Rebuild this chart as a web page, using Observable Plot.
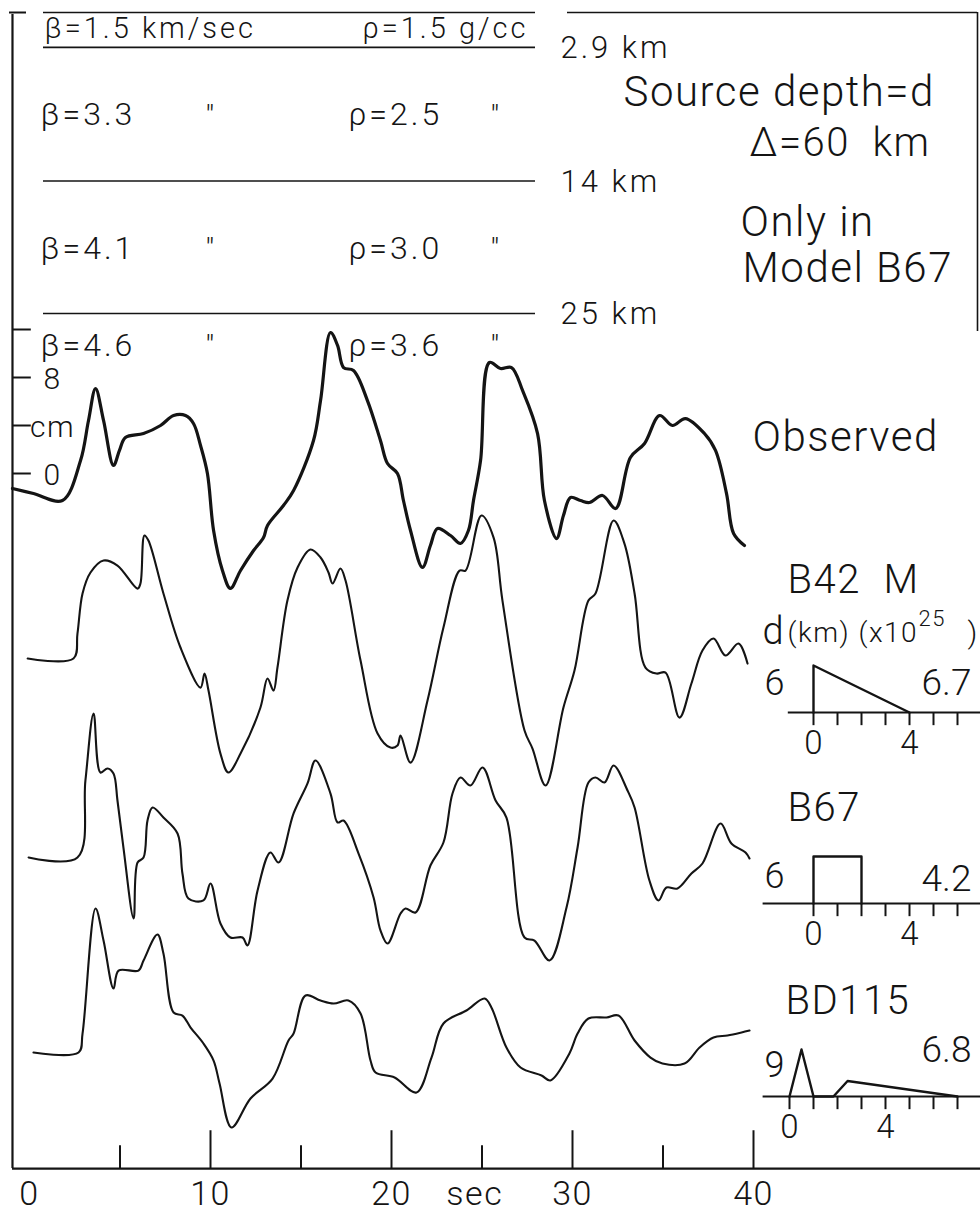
<!DOCTYPE html>
<html>
<head>
<meta charset="utf-8">
<script src="https://cdn.jsdelivr.net/npm/d3@7"></script>
<script src="https://cdn.jsdelivr.net/npm/@observablehq/plot@0.6"></script>
<style>
  html, body { margin: 0; padding: 0; background: #fff; }
  #figure { position: relative; width: 980px; height: 1214px; overflow: hidden; background: #fff; }
  #figure svg { position: absolute; }
</style>
</head>
<body>
<div id="figure"></div>
<script>
// ---------------------------------------------------------------------------
// Seismograms at Δ = 60 km: [time (s), displacement (cm)]
// ---------------------------------------------------------------------------
const observed = [
  [-0.94,-1.25],[0.22,-1.67],[1.82,-2.25],[2.82,1.08],[3.26,4.42],[3.65,7.08],[4.09,4.42],
  [4.64,0.67],[4.97,1.92],[5.30,3.0],[6.30,3.33],[7.24,4.0],[7.96,4.83],[8.62,4.83],[9.06,4.17],
  [9.45,2.33],[9.83,0],[10.17,-4.75],[10.66,-8.08],[11.10,-9.58],[11.66,-8.08],[12.38,-6.42],
  [12.93,-5.33],[13.15,-4.33],[14.03,-2.67],[14.59,-1.42],[15.69,2.75],[16.08,6.08],[16.63,11.75],
  [17.02,10.67],[17.35,8.83],[17.90,8.58],[18.67,6.08],[19.39,2.75],[19.78,0.83],[20.33,0],
  [20.66,-2.25],[21.05,-4.75],[21.71,-7.83],[22.15,-6.0],[22.54,-4.58],[23.26,-5.17],[23.81,-5.83],
  [24.25,-4.75],[24.53,-2.25],[24.92,1.08],[25.41,9.25],[26.02,8.75],[26.63,8.83],[27.24,6.92],
  [28.07,3.33],[28.45,-2.25],[29.12,-5.42],[29.50,-3.5],[29.89,-2.0],[30.44,-2.25],[30.94,-2.42],
  [31.66,-1.83],[32.38,-2.92],[33.20,1.33],[33.98,2.5],[34.81,4.83],[35.52,4.0],[36.24,4.58],
  [37.29,3.33],[37.90,1.92],[38.51,-1.67],[38.90,-5.0],[39.50,-6.0]
];
const synthB42M = [
  [-0.1,0],[2.43,0],[2.65,2.08],[2.93,5.42],[3.37,7.17],[4.09,8.17],[4.86,7.75],[5.97,5.83],
  [6.13,6.25],[6.35,10.25],[6.57,9.83],[7.40,5.42],[8.34,0.92],[9.45,-2.42],[9.67,-1.25],
  [9.89,-2.67],[10.55,-7.92],[10.99,-9.5],[11.66,-7.92],[12.76,-4.08],[13.15,-1.67],[13.48,-2.67],
  [13.70,-0.75],[14.25,4.83],[14.81,7.58],[15.52,9.08],[16.08,8.42],[16.52,7.17],[16.74,6.25],
  [17.18,7.5],[17.46,6.5],[18.29,-0.17],[19.23,-6.25],[19.94,-7.42],[20.33,-7.25],[20.50,-6.42],
  [21.05,-8.67],[21.99,-3.5],[22.87,2.58],[23.76,7.33],[24.09,7.33],[24.97,11.92],[25.64,10.08],
  [26.13,4.83],[27.35,-6.0],[27.79,-7.5],[28.51,-10.58],[29.50,-4.08],[30.11,-1.0],[30.88,4.83],
  [31.27,5.42],[32.27,11.5],[32.87,9.58],[33.43,5.42],[34.03,-0.75],[34.64,-1.25],[35.14,-1.17],
  [35.91,-4.92],[36.57,-2.08],[37.18,0.67],[37.79,1.67],[38.45,0.25],[39.17,1.25],[39.67,-0.42]
];
const synthB67 = [
  [-0.05,0],[2.65,0],[3.09,6.42],[3.54,12.0],[3.92,7.08],[4.31,7.42],[4.64,7.0],[4.86,4.75],
  [5.19,0.83],[5.75,-5.08],[5.97,-0.42],[6.30,0],[6.52,3.08],[6.80,4.17],[7.40,3.33],[8.18,2.0],
  [8.45,-1.33],[8.78,-3.42],[9.61,-3.58],[10.0,-2.17],[10.55,-5.5],[11.10,-6.67],[11.77,-6.67],
  [12.04,-7.33],[12.60,-2.75],[13.31,0.42],[13.76,-0.42],[14.59,3.67],[15.36,6.17],[15.80,8.08],
  [16.63,5.33],[17.02,2.92],[17.35,3.08],[18.18,0.33],[19.01,-3.33],[19.39,-6.08],[19.78,-7.17],
  [20.50,-4.67],[20.77,-4.25],[21.33,-4.58],[22.15,-0.67],[22.87,1.25],[23.37,5.33],[23.81,6.67],
  [24.36,6.0],[25.03,7.5],[25.75,4.75],[26.35,3.33],[27.35,-6.67],[27.90,-6.92],[28.73,-8.58],
  [29.67,-4.17],[30.28,0.83],[30.88,6.25],[31.27,6.67],[31.77,6.25],[32.27,7.67],[33.04,5.58],
  [33.43,4.17],[34.25,-1.92],[34.75,-3.58],[35.19,-2.5],[35.80,-2.58],[36.57,-1.33],[37.18,-0.5],
  [38.18,2.83],[38.78,1.17],[39.56,0.42],[39.78,-0.08]
];
const synthBD115 = [
  [0.22,0],[2.71,0],[2.93,1.58],[3.65,12.0],[4.09,9.33],[4.64,5.33],[4.92,6.83],[6.02,6.83],
  [6.30,7.67],[7.07,9.83],[7.40,8.25],[7.96,3.33],[8.45,3.08],[8.90,2.08],[9.61,0.75],[10.17,-0.67],
  [10.50,-2.58],[11.16,-6.25],[12.21,-3.83],[13.43,-2.17],[14.31,1.0],[14.59,1.58],[15.25,4.75],
  [16.08,4.33],[16.80,4.08],[17.62,4.33],[18.29,3.25],[18.84,-0.67],[19.12,-1.67],[20.17,-2.08],
  [21.38,-3.33],[22.21,-0.42],[22.87,2.42],[24.14,3.5],[25.14,4.5],[25.52,3.75],[26.35,0.42],
  [27.13,-1.25],[28.29,-1.92],[28.78,-2.33],[29.83,-0.08],[30.28,1.58],[30.88,2.83],[31.88,2.92],
  [32.54,3.08],[33.43,1.0],[34.31,-0.42],[34.97,-0.92],[36.19,-0.92],[37.02,0.42],[37.79,1.25],
  [38.56,1.42],[39.34,1.67],[39.78,1.83]
];
const traceNames = ["Observed", "B42 M", "B67", "BD115"];

// Time axis (s) and amplitude scale (cm)
const timeTicksMajor = [10, 20, 30, 40];
const timeTicksMinor = [5, 15, 25, 35];
const timeTickLabels = [0, 10, 20, 30, 40];
const cmTicks = [12, 8, 4, 0];
const cmTickLabels = [[8, "8"], [4, "cm"], [0, "0"]];

// Crustal model: shear velocity (km/sec), density (g/cc), interface depths (km)
const layerBeta = [1.5, 3.3, 4.1, 4.6];
const layerRho = [1.5, 2.5, 3.0, 3.6];
const interfaceDepths = [2.9, 14, 25];

// Source time functions [time (s), relative moment rate], source depth d (km), moment (x10^25)
const stfB42M = [[0, 0], [0, 1], [4, 0]];
const stfB67 = [[0, 0], [0, 1], [2, 1], [2, 0]];
const stfBD115 = [[0, 0], [0.5, 1], [1, 0], [1.83, 0], [2.42, 0.33], [7, 0]];
const sourceDepthKm = [6, 6, 9];
const momentE25 = [6.7, 4.2, 6.8];
const stfTickLabels = [0, 4];

// ---------------------------------------------------------------------------
// Drawing
// ---------------------------------------------------------------------------
const INK = "#141414";
const FONT = "Roboto, 'Open Sans', 'DejaVu Sans', sans-serif";
const figure = document.getElementById("figure");

const svgStyle = (extra = {}) => ({
  background: "transparent", overflow: "visible", fontFamily: FONT,
  color: INK, letterSpacing: "1.5px", ...extra
});

// free-standing label placed in the frame's pixel space
const label = (text, x, y, opts = {}) => Plot.text([text], {
  frameAnchor: "top-left", dx: x, dy: y, text: d => d,
  textAnchor: "start", lineAnchor: "middle",
  fontSize: 42, fontWeight: 300, fill: INK, ...opts
});

// --- seismograms, time axis, amplitude scale -------------------------------
const baselineCm = [0, -15.42, -32.0, -48.25];       // vertical offset of each trace
const traces = [observed, synthB42M, synthB67, synthBD115];
const rows = traces.flatMap((pts, i) =>
  pts.map(([t, a]) => ({trace: traceNames[i], t, y: a + baselineCm[i]})));

const AXIS_CM = -57.92;   // level of the time axis
const LEFT_T = -0.94;     // time at the left frame line
const TOP_CM = 38.25;     // top of the left frame line
const RIGHT_T = 52.6;     // right end of the time axis

const main = Plot.plot({
  width: 980, height: 1214, margin: 0,
  style: svgStyle({left: "0px", top: "0px"}),
  x: {domain: [0, 40], range: [29, 753], axis: null},
  y: {domain: [0, 8], range: [473, 377], axis: null},
  marks: [
    Plot.ruleX([LEFT_T], {y1: TOP_CM, y2: AXIS_CM, stroke: INK, strokeWidth: 2.2}),
    Plot.ruleY(cmTicks, {y: d => d, x1: LEFT_T, x2: 0.1, stroke: INK, strokeWidth: 2}),
    Plot.text(cmTickLabels, {x: LEFT_T, y: d => d[0], text: d => d[1], dx: 40, dy: 2,
      textAnchor: "middle", lineAnchor: "middle", fontSize: 30, fontWeight: 300, fill: INK}),

    Plot.ruleY([AXIS_CM], {x1: LEFT_T, x2: RIGHT_T, stroke: INK, strokeWidth: 2.2}),
    Plot.ruleX(timeTicksMajor, {x: d => d, y1: AXIS_CM, y2: AXIS_CM + 3.15, stroke: INK, strokeWidth: 2}),
    Plot.ruleX(timeTicksMinor, {x: d => d, y1: AXIS_CM, y2: AXIS_CM + 1.9, stroke: INK, strokeWidth: 2}),
    Plot.text(timeTickLabels, {x: d => d, y: AXIS_CM - 2.1, text: d => String(d),
      lineAnchor: "middle", fontSize: 34, fontWeight: 300, fill: INK}),
    Plot.text(["sec"], {x: 24.6, y: AXIS_CM - 2.1, text: d => d,
      lineAnchor: "middle", fontSize: 34, fontWeight: 300, fill: INK}),

    Plot.line(rows, {filter: d => d.trace === "Observed", x: "t", y: "y",
      curve: "catmull-rom", stroke: INK, strokeWidth: 3.2}),
    Plot.line(rows, {filter: d => d.trace !== "Observed", x: "t", y: "y", z: "trace",
      curve: "catmull-rom", stroke: INK, strokeWidth: 2.1}),

    label("Observed", 752, 437),
    label("B42\u00a0\u00a0M", 787, 580, {fontSize: 40}),
    label("d", 762, 631, {fontSize: 38}),
    label("(km) (x10", 787, 633, {fontSize: 28, letterSpacing: "0px"}),
    label("25", 918, 618, {fontSize: 22}),
    label(")", 967, 633, {fontSize: 30}),
    label("B67", 787, 808, {fontSize: 40}),
    label("BD115", 785, 1001, {fontSize: 40}),

    label("Source depth=d", 623, 92, {fontSize: 42}),
    label("\u0394=60\u00a0\u00a0km", 930, 143, {fontSize: 40, textAnchor: "end"}),
    label("Only in", 740, 222, {fontSize: 42}),
    label("Model B67", 742, 268, {fontSize: 42})
  ]
});
figure.append(main);

// --- crustal model, depth in km --------------------------------------------
const layerTops = [0, ...interfaceDepths];
const layerLabelDepth = layerTops.map((top, i) =>
  i < interfaceDepths.length ? (top + interfaceDepths[i]) / 2 : top + 2.6);
const layers = layerBeta.map((beta, i) => ({i, beta, rho: layerRho[i], depth: layerLabelDepth[i]}));

const modelText = {fontSize: 32, fontWeight: 300, fill: INK, lineAnchor: "middle", textAnchor: "start"};
const model = Plot.plot({
  width: 980, height: 380, margin: 0,
  style: svgStyle({left: "0px", top: "0px", letterSpacing: "3px"}),
  x: {type: "identity", axis: null},
  y: {domain: [0, 25], range: [12, 313], axis: null},
  marks: [
    Plot.ruleY(layerTops, {y: d => d, x1: 43, x2: 535, stroke: INK, strokeWidth: 1.6}),
    Plot.ruleY([0], {y: d => d, x1: 9, x2: 26, stroke: INK, strokeWidth: 2}),
    Plot.ruleY([0], {y: d => d, x1: 567, x2: 977, stroke: INK, strokeWidth: 1.6}),
    Plot.ruleX([977], {y1: 0, y2: 26.5, stroke: INK, strokeWidth: 1.6}),

    Plot.text(layers.slice(0, 1), {x: 44, y: "depth", dy: -1,
      text: d => `\u03b2=${d.beta} km/sec`, ...modelText, fontSize: 29}),
    Plot.text(layers.slice(0, 1), {x: 362, y: "depth", dy: -1,
      text: d => `\u03c1=${d.rho} g/cc`, ...modelText, fontSize: 29}),
    Plot.text(layers.slice(1), {x: 40, y: "depth", dy: 1,
      text: d => `\u03b2=${d.beta.toFixed(1)}`, ...modelText}),
    Plot.text(layers.slice(1), {x: 205, y: "depth", dy: 2, text: () => "\"", ...modelText, fontSize: 30}),
    Plot.text(layers.slice(1), {x: 348, y: "depth", dy: 1,
      text: d => `\u03c1=${d.rho.toFixed(1)}`, ...modelText}),
    Plot.text(layers.slice(1), {x: 490, y: "depth", dy: 2, text: () => "\"", ...modelText, fontSize: 30}),

    Plot.text(interfaceDepths, {x: 560, y: d => d, dy: 1,
      text: d => `${d}\u00a0km`, ...modelText, fontSize: 31})
  ]
});
figure.append(model);

// --- source time functions -------------------------------------------------
const stfs = [stfB42M, stfB67, stfBD115];
const insetLayout = [
  {axisY: 712, zeroX: 813, from: -1.05, to: 7, ticks: d3.range(0, 7), depthY: 0.62, momentY: 0.62},
  {axisY: 903, zeroX: 813, from: -2.1, to: 7, ticks: d3.range(0, 7), depthY: 0.58, momentY: 0.52},
  {axisY: 1096, zeroX: 789, from: -1.1, to: 8, ticks: d3.range(0, 8), depthY: 0.66, momentY: 0.98}
];
const INSET_LEFT = 740;
stfs.forEach((stf, k) => {
  const L = insetLayout[k];
  const zero = L.zeroX - INSET_LEFT;
  const svg = Plot.plot({
    width: 240, height: 110, margin: 0,
    style: svgStyle({left: INSET_LEFT + "px", top: (L.axisY - 70) + "px", letterSpacing: "0px"}),
    x: {domain: [0, 4], range: [zero, zero + 96], axis: null},
    y: {domain: [0, 1], range: [70, 23], axis: null},
    marks: [
      Plot.ruleY([0], {x1: L.from, x2: L.to, stroke: INK, strokeWidth: 2.2}),
      Plot.ruleX(L.ticks, {x: d => d, y1: 0, y2: -0.28, stroke: INK, strokeWidth: 2}),
      Plot.line(stf, {x: d => d[0], y: d => d[1], stroke: INK, strokeWidth: 2.4}),
      Plot.text(stfTickLabels, {x: d => d, y: -0.66, text: d => String(d),
        lineAnchor: "middle", fontSize: 33, fontWeight: 300, fill: INK}),
      Plot.text([sourceDepthKm[k]], {frameAnchor: "left", dx: 44, y: L.depthY, text: d => String(d),
        textAnchor: "end", lineAnchor: "middle", fontSize: 36, fontWeight: 300, fill: INK}),
      Plot.text([momentE25[k]], {frameAnchor: "left", dx: 206, y: L.momentY, text: d => d.toFixed(1),
        textAnchor: "middle", lineAnchor: "middle", fontSize: 37, fontWeight: 300, fill: INK})
    ]
  });
  figure.append(svg);
});
</script>
</body>
</html>
